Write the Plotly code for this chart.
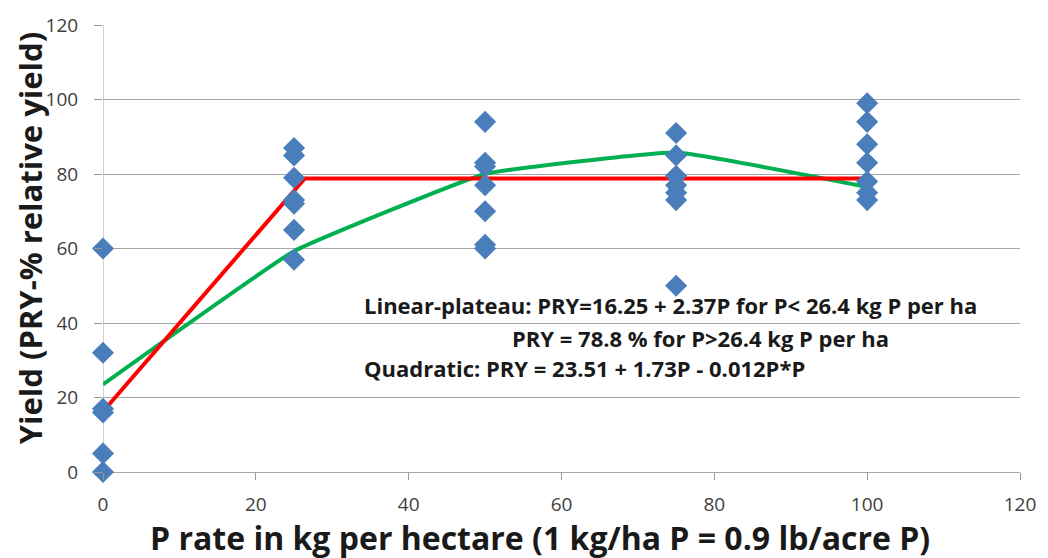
import plotly.graph_objects as go

# Observed data (P rate kg/ha, relative yield %)
p_rate = [0, 0, 0, 0, 0, 0,
          25, 25, 25, 25, 25, 25, 25,
          50, 50, 50, 50, 50, 50, 50,
          75, 75, 75, 75, 75, 75, 75,
          100, 100, 100, 100, 100, 100, 100]
pry = [60, 32, 17, 16, 5, 0,
       87, 85, 79, 73, 72, 65, 57,
       94, 83, 82, 77, 70, 61, 60,
       91, 85, 79.5, 77, 75, 73, 50,
       99, 94, 88, 83, 78, 75, 73]

# Linear-plateau model line
lp_x = [0, 26.4, 100]
lp_y = [16.25, 78.8, 78.8]

# Quadratic model line
quad_x = [0, 25, 50, 75, 100]
quad_y = [23.51, 59.26, 80.01, 85.76, 76.51]

x_ticks = [0, 20, 40, 60, 80, 100, 120]
y_ticks = [0, 20, 40, 60, 80, 100, 120]

x_title = "P rate in kg per hectare (1 kg/ha P = 0.9 lb/acre P)"
y_title = "Yield (PRY-% relative yield)"

annot_lines = [
    ("Linear-plateau: PRY=16.25 + 2.37P for P< 26.4 kg P per ha", 33.9, 44.8),
    ("PRY = 78.8 % for P>26.4 kg P per ha", 53.2, 36.0),
    ("Quadratic: PRY = 23.51 + 1.73P - 0.012P*P", 33.9, 27.8),
]

FONT = "Open Sans"

fig = go.Figure()
fig.add_trace(go.Scatter(x=quad_x, y=quad_y, mode="lines",
                         line=dict(color="#00B050", width=4, shape="spline", smoothing=0.3),
                         showlegend=False, hoverinfo="skip"))
fig.add_trace(go.Scatter(x=lp_x, y=lp_y, mode="lines",
                         line=dict(color="#FF0000", width=4),
                         showlegend=False, hoverinfo="skip"))
fig.add_trace(go.Scatter(x=p_rate, y=pry, mode="markers",
                         marker=dict(symbol="diamond", size=17, color="#4A7EBB",
                                     line=dict(width=0)),
                         cliponaxis=False, showlegend=False))

for txt, ax, ay in annot_lines:
    fig.add_annotation(x=ax, y=ay, text="<b>" + txt + "</b>", showarrow=False,
                       xanchor="left", yanchor="middle", xref="x", yref="y",
                       font=dict(family=FONT, size=22, color="#1a1a1a"))

# axis titles as annotations (centred like the reference)
fig.add_annotation(x=0.477, y=-0.1457, xref="paper", yref="paper",
                   text="<b>" + x_title + "</b>", showarrow=False,
                   xanchor="center", yanchor="middle",
                   font=dict(family=FONT, size=32, color="#1a1a1a"))
fig.add_annotation(x=-0.0795, y=0.523, xref="paper", yref="paper",
                   text="<b>" + y_title + "</b>", showarrow=False, textangle=-90,
                   xanchor="center", yanchor="middle",
                   font=dict(family=FONT, size=31, color="#1a1a1a"))

fig.update_layout(
    width=1048, height=558,
    margin=dict(l=103, r=27, t=20, b=86),
    paper_bgcolor="white", plot_bgcolor="white",
    font=dict(family=FONT, color="#404040"),
)
fig.update_xaxes(range=[0, 120], tickvals=x_ticks, showgrid=False, zeroline=False,
                 showline=False, ticks="outside", ticklen=7, tickcolor="#999999",
                 ticklabelstandoff=8,
                 tickfont=dict(size=19, color="#404040"))
fig.update_yaxes(range=[0, 120], tickvals=y_ticks, showgrid=True, gridcolor="#A6A6A6",
                 gridwidth=1, zeroline=True, zerolinecolor="#A6A6A6", zerolinewidth=1,
                 showline=False, ticks="outside", ticklen=8, tickcolor="#999999",
                 ticklabelstandoff=12,
                 tickfont=dict(size=19, color="#404040"))
# y axis line at x = 0
fig.add_shape(type="line", xref="x", yref="y", x0=0, x1=0, y0=0, y1=120,
              line=dict(color="#A6A6A6", width=1), layer="below")

fig.write_html("out.html")
